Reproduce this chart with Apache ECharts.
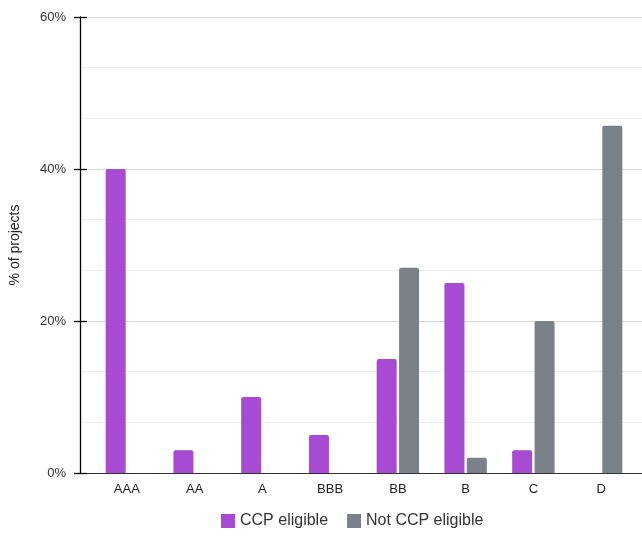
<!DOCTYPE html>
<html>
<head>
<meta charset="utf-8">
<script src="https://cdn.jsdelivr.net/npm/echarts@6/dist/echarts.min.js"></script>
<style>
  html, body { margin: 0; padding: 0; background: #fff; }
  #chart { width: 642px; height: 536px; }
</style>
</head>
<body>
<div id="chart"></div>
<script>
// Rating grades and share of projects in each (%)
const ratings = ['AAA', 'AA', 'A', 'BBB', 'BB', 'B', 'C', 'D'];
const ccpEligible = [40, 3, 10, 5, 15, 25, 3, 0];
const notCcpEligible = [0, 0, 0, 0, 27, 2, 20, 45.7];
const yTicks = [0, 20, 40, 60];

const FONT = '"Liberation Sans", Arial, sans-serif';
const PURPLE = '#a64bd2';
const GREY = '#7a8188';

const yMin = yTicks[0];
const yMax = yTicks[yTicks.length - 1];
const yStep = yTicks[1] - yTicks[0];

const chart = echarts.init(document.getElementById('chart'));
chart.setOption({
  animation: false,
  textStyle: { fontFamily: FONT },
  grid: [
    // frame: axis line, ticks, labels and gridlines
    { left: 80, right: 0, top: 17, bottom: 63 },
    // bars
    { left: 93, right: 7, top: 17, bottom: 63 }
  ],
  legend: {
    left: 216,
    bottom: 2,
    itemWidth: 14,
    itemHeight: 14,
    itemGap: 19,
    icon: 'rect',
    textStyle: { fontFamily: FONT, fontSize: 16, color: '#333' },
    data: ['CCP eligible', 'Not CCP eligible']
  },
  xAxis: [
    {
      gridIndex: 0, type: 'value', min: 0, max: 1,
      axisLine: { show: true, lineStyle: { color: '#333', width: 1 } },
      axisTick: { show: false }, axisLabel: { show: false }, splitLine: { show: false }
    },
    {
      gridIndex: 1, type: 'category', data: ratings,
      axisLine: { show: false }, axisTick: { show: false },
      axisLabel: { margin: 10, fontSize: 13, color: '#222', fontFamily: FONT }
    }
  ],
  yAxis: [
    {
      gridIndex: 0, type: 'value', min: yMin, max: yMax, interval: yStep,
      name: '% of projects', nameLocation: 'middle', nameGap: 58,
      nameTextStyle: { fontSize: 14, color: '#222', fontFamily: FONT },
      axisLine: { show: true, lineStyle: { color: '#000', width: 1.3 } },
      axisTick: { show: true, length: 6, lineStyle: { color: '#000', width: 1.3 } },
      axisLabel: { margin: 14, fontSize: 13, color: '#333', fontFamily: FONT, formatter: '{value}%' },
      splitLine: { show: true, lineStyle: { color: '#d9d9d9', width: 1 } },
      minorTick: { show: false, splitNumber: 3 },
      minorSplitLine: { show: true, lineStyle: { color: '#ececec', width: 1 } }
    },
    {
      // inward half of the crossing ticks
      gridIndex: 0, type: 'value', min: yMin, max: yMax, interval: yStep, position: 'left',
      axisLine: { show: false }, axisLabel: { show: false }, splitLine: { show: false },
      axisTick: { show: true, inside: true, length: 7, lineStyle: { color: '#000', width: 1.3 } }
    },
    {
      gridIndex: 1, type: 'value', min: yMin, max: yMax, interval: yStep, show: false
    }
  ],
  series: [
    {
      name: 'CCP eligible', type: 'bar', xAxisIndex: 1, yAxisIndex: 2,
      data: ccpEligible, barWidth: 20, barGap: '12%',
      itemStyle: { color: PURPLE, borderRadius: [2, 2, 0, 0] }
    },
    {
      name: 'Not CCP eligible', type: 'bar', xAxisIndex: 1, yAxisIndex: 2,
      data: notCcpEligible, barWidth: 20, barGap: '12%',
      itemStyle: { color: GREY, borderRadius: [2, 2, 0, 0] }
    }
  ]
});
</script>
</body>
</html>
